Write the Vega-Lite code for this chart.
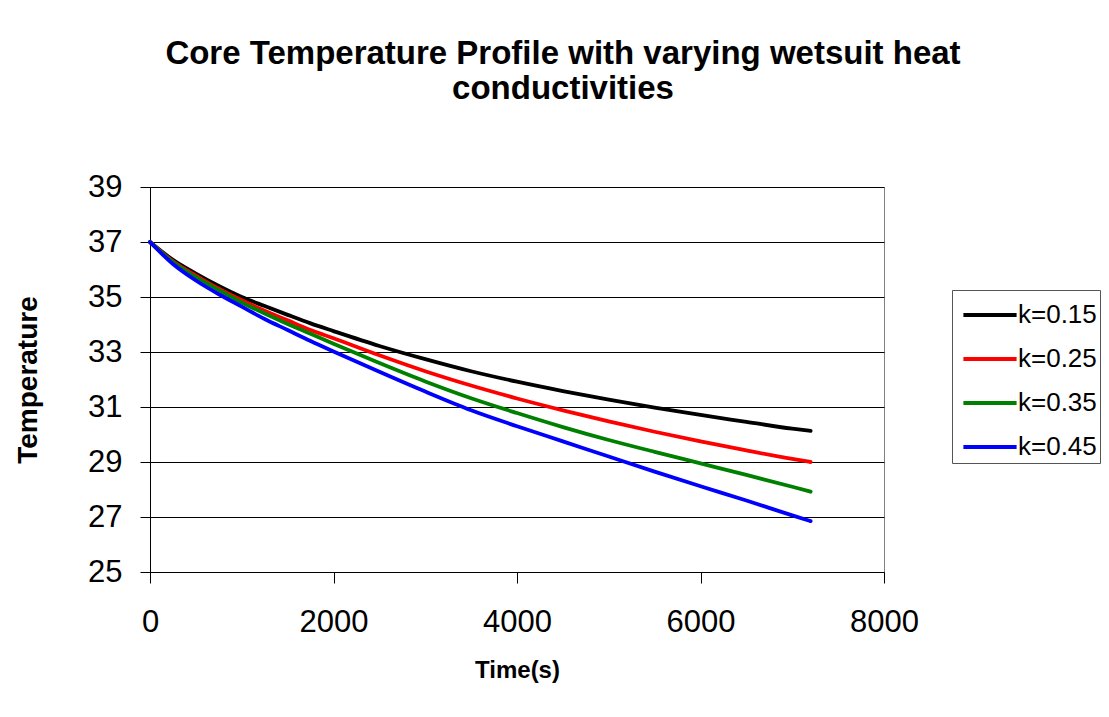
{
  "$schema": "https://vega.github.io/schema/vega-lite/v6.json",
  "width": 734,
  "height": 385,
  "autosize": {"type": "none"},
  "padding": {"left": 150, "top": 187, "right": 225, "bottom": 145},
  "background": "white",
  "title": {
    "text": ["Core Temperature Profile with varying wetsuit heat", "conductivities"],
    "font": "Liberation Sans",
    "fontSize": 33,
    "fontWeight": "bold",
    "color": "black",
    "anchor": "middle",
    "frame": "group",
    "dx": 46,
    "lineHeight": 35,
    "offset": 65
  },
  "config": {
    "view": {"stroke": "#808080", "strokeWidth": 1},
    "font": "Liberation Sans",
    "axis": {
      "labelFont": "Liberation Sans",
      "titleFont": "Liberation Sans",
      "labelColor": "black",
      "titleColor": "black",
      "domainColor": "black",
      "tickColor": "black",
      "domainWidth": 1,
      "tickWidth": 1
    }
  },
  "data": {
    "values": [
      {"t": 0, "T": 37.0, "k": "k=0.15"},
      {"t": 250, "T": 36.35, "k": "k=0.15"},
      {"t": 500, "T": 35.85, "k": "k=0.15"},
      {"t": 750, "T": 35.4, "k": "k=0.15"},
      {"t": 1000, "T": 35.0, "k": "k=0.15"},
      {"t": 1250, "T": 34.67, "k": "k=0.15"},
      {"t": 1500, "T": 34.35, "k": "k=0.15"},
      {"t": 1750, "T": 34.04, "k": "k=0.15"},
      {"t": 2000, "T": 33.76, "k": "k=0.15"},
      {"t": 2500, "T": 33.22, "k": "k=0.15"},
      {"t": 3000, "T": 32.74, "k": "k=0.15"},
      {"t": 3500, "T": 32.3, "k": "k=0.15"},
      {"t": 4000, "T": 31.92, "k": "k=0.15"},
      {"t": 4500, "T": 31.58, "k": "k=0.15"},
      {"t": 5000, "T": 31.27, "k": "k=0.15"},
      {"t": 5500, "T": 30.98, "k": "k=0.15"},
      {"t": 6000, "T": 30.71, "k": "k=0.15"},
      {"t": 6500, "T": 30.46, "k": "k=0.15"},
      {"t": 7000, "T": 30.21, "k": "k=0.15"},
      {"t": 7200, "T": 30.13, "k": "k=0.15"},

      {"t": 0, "T": 37.0, "k": "k=0.25"},
      {"t": 250, "T": 36.3, "k": "k=0.25"},
      {"t": 500, "T": 35.78, "k": "k=0.25"},
      {"t": 750, "T": 35.3, "k": "k=0.25"},
      {"t": 1000, "T": 34.88, "k": "k=0.25"},
      {"t": 1250, "T": 34.5, "k": "k=0.25"},
      {"t": 1500, "T": 34.15, "k": "k=0.25"},
      {"t": 1750, "T": 33.8, "k": "k=0.25"},
      {"t": 2000, "T": 33.5, "k": "k=0.25"},
      {"t": 2500, "T": 32.88, "k": "k=0.25"},
      {"t": 3000, "T": 32.3, "k": "k=0.25"},
      {"t": 3500, "T": 31.78, "k": "k=0.25"},
      {"t": 4000, "T": 31.31, "k": "k=0.25"},
      {"t": 4500, "T": 30.88, "k": "k=0.25"},
      {"t": 5000, "T": 30.48, "k": "k=0.25"},
      {"t": 5500, "T": 30.1, "k": "k=0.25"},
      {"t": 6000, "T": 29.75, "k": "k=0.25"},
      {"t": 6500, "T": 29.42, "k": "k=0.25"},
      {"t": 7000, "T": 29.11, "k": "k=0.25"},
      {"t": 7200, "T": 29.0, "k": "k=0.25"},

      {"t": 0, "T": 37.0, "k": "k=0.35"},
      {"t": 250, "T": 36.27, "k": "k=0.35"},
      {"t": 500, "T": 35.72, "k": "k=0.35"},
      {"t": 750, "T": 35.25, "k": "k=0.35"},
      {"t": 1000, "T": 34.8, "k": "k=0.35"},
      {"t": 1250, "T": 34.4, "k": "k=0.35"},
      {"t": 1500, "T": 34.02, "k": "k=0.35"},
      {"t": 1750, "T": 33.66, "k": "k=0.35"},
      {"t": 2000, "T": 33.3, "k": "k=0.35"},
      {"t": 2500, "T": 32.6, "k": "k=0.35"},
      {"t": 3000, "T": 31.93, "k": "k=0.35"},
      {"t": 3500, "T": 31.32, "k": "k=0.35"},
      {"t": 4000, "T": 30.78, "k": "k=0.35"},
      {"t": 4500, "T": 30.27, "k": "k=0.35"},
      {"t": 5000, "T": 29.8, "k": "k=0.35"},
      {"t": 5500, "T": 29.37, "k": "k=0.35"},
      {"t": 6000, "T": 28.95, "k": "k=0.35"},
      {"t": 6500, "T": 28.53, "k": "k=0.35"},
      {"t": 7000, "T": 28.1, "k": "k=0.35"},
      {"t": 7200, "T": 27.92, "k": "k=0.35"},

      {"t": 0, "T": 37.0, "k": "k=0.45"},
      {"t": 250, "T": 36.2, "k": "k=0.45"},
      {"t": 500, "T": 35.6, "k": "k=0.45"},
      {"t": 750, "T": 35.1, "k": "k=0.45"},
      {"t": 1000, "T": 34.65, "k": "k=0.45"},
      {"t": 1250, "T": 34.2, "k": "k=0.45"},
      {"t": 1500, "T": 33.8, "k": "k=0.45"},
      {"t": 1750, "T": 33.4, "k": "k=0.45"},
      {"t": 2000, "T": 33.02, "k": "k=0.45"},
      {"t": 2500, "T": 32.28, "k": "k=0.45"},
      {"t": 3000, "T": 31.56, "k": "k=0.45"},
      {"t": 3500, "T": 30.88, "k": "k=0.45"},
      {"t": 4000, "T": 30.3, "k": "k=0.45"},
      {"t": 4500, "T": 29.75, "k": "k=0.45"},
      {"t": 5000, "T": 29.2, "k": "k=0.45"},
      {"t": 5500, "T": 28.65, "k": "k=0.45"},
      {"t": 6000, "T": 28.12, "k": "k=0.45"},
      {"t": 6500, "T": 27.6, "k": "k=0.45"},
      {"t": 7000, "T": 27.06, "k": "k=0.45"},
      {"t": 7200, "T": 26.85, "k": "k=0.45"}
    ]
  },
  "mark": {"type": "line", "strokeWidth": 3.8, "interpolate": "monotone", "strokeCap": "round"},
  "encoding": {
    "x": {
      "field": "t",
      "type": "quantitative",
      "scale": {"domain": [0, 8000], "nice": false},
      "axis": {
        "values": [0, 2000, 4000, 6000, 8000],
        "grid": false,
        "tickSize": 11,
        "labelFontSize": 31,
        "labelPadding": 24,
        "labelFlush": false,
        "format": "d",
        "title": "Time(s)",
        "titleFontSize": 24,
        "titleFontWeight": "bold",
        "titleY": 105,
        "titleBaseline": "alphabetic"
      }
    },
    "y": {
      "field": "T",
      "type": "quantitative",
      "scale": {"domain": [25, 39], "nice": false, "zero": false},
      "axis": {
        "values": [25, 27, 29, 31, 33, 35, 37, 39],
        "grid": true,
        "gridColor": "black",
        "gridWidth": 1,
        "gridOpacity": 1,
        "tickSize": 10,
        "labelFontSize": 31,
        "labelPadding": 18,
        "labelFlush": false,
        "title": "Temperature",
        "titleFontSize": 28,
        "titleFontWeight": "bold",
        "titleX": -122,
        "titleBaseline": "middle"
      }
    },
    "color": {
      "field": "k",
      "type": "nominal",
      "scale": {
        "domain": ["k=0.15", "k=0.25", "k=0.35", "k=0.45"],
        "range": ["#000000", "#FF0000", "#008000", "#0000FF"]
      },
      "legend": {
        "title": null,
        "orient": "none",
        "legendX": 802,
        "legendY": 103,
        "strokeColor": "#555555",
        "fillColor": "white",
        "padding": 3,
        "symbolType": "M-1.33,0H1.33",
        "symbolSize": 1600,
        "symbolStrokeWidth": 4,
        "symbolOffset": 13,
        "labelFont": "Liberation Sans",
        "labelFontSize": 26,
        "labelColor": "black",
        "labelOffset": 6,
        "rowPadding": 9
      }
    }
  }
}
